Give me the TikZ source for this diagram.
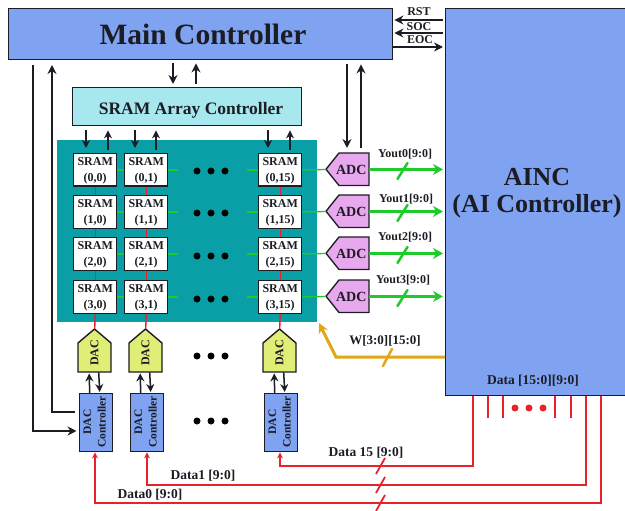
\documentclass[tikz,border=0pt]{standalone}
\usepackage{fontspec}
\setmainfont{Liberation Serif}
\usetikzlibrary{arrows.meta,calc}
\definecolor{mainblue}{HTML}{7FA3F0}
\definecolor{ctrlcyan}{HTML}{A6E8EE}
\definecolor{teal1}{HTML}{0A9EA6}
\definecolor{adcpink}{HTML}{E8A8EE}
\definecolor{dacyellow}{HTML}{E0EE78}
\definecolor{gr}{HTML}{1FCB2B}
\definecolor{gold}{HTML}{E0A818}
\definecolor{rd}{HTML}{E8222A}
\definecolor{ink}{HTML}{1C1C24}
\newcommand{\fs}[1]{\fontsize{#1}{#1}\selectfont\bfseries}
\tikzset{
 box/.style={draw=ink,line width=1.4pt,inner sep=0pt,anchor=north west,align=center,text=ink},
 sram/.style={box,fill=white,minimum width=43pt,minimum height=32.5pt,font=\fs{12},text depth=0pt},
 lab/.style={inner sep=0pt,text=ink,font=\fs{12}},
 dlab/.style={inner sep=0pt,text=ink,font=\fs{13.5}},
 arr/.style={draw=ink,line width=1.5pt,-{Stealth[length=9pt,width=9pt]}},
 thin arr/.style={draw=ink,line width=1.5pt,-{Stealth[length=8pt,width=8pt]}},
 garr/.style={draw=gr,line width=3pt,-{Stealth[length=10pt,width=11pt]},shorten >=2pt},
 glink/.style={draw=gr,line width=1.4pt},
 rlink/.style={draw=rd,line width=1.4pt},
 rarr/.style={draw=rd,line width=1.4pt,-{Stealth[length=6pt,width=6pt]}},
 gslash/.style={draw=gr,line width=2.5pt,line cap=round},
 rslash/.style={draw=rd,line width=1.8pt},
 rdot/.style={circle,fill=rd,inner sep=0pt,minimum size=7pt},
 kdot/.style={circle,fill=black,inner sep=0pt,minimum size=7pt},
}
\begin{document}
\begin{tikzpicture}[x=1pt,y=-1pt]
\useasboundingbox (0,0) rectangle (625,511);
\clip (0,0) rectangle (625,511);
% main blocks
\node[box,fill=mainblue,minimum width=384pt,minimum height=51pt] (mc) at (8,8) {};
\node[inner sep=0pt,font=\fs{29.5},text=ink] (mct) at (203,34) {Main Controller};
\node[box,fill=mainblue,minimum width=200pt,minimum height=387pt] (ainc) at (445,8) {};
\node[inner sep=0pt,font=\fs{26},text=ink,align=center] (ainct) at (537,193) {AINC\\[1pt](AI Controller)};
\node[box,fill=ctrlcyan,minimum width=229pt,minimum height=38pt] (sc) at (72,87) {};
\node[inner sep=0pt,font=\fs{17.5},text=ink] (sct) at (191,110) {SRAM Array Controller};
\node[fill=teal1,inner sep=0pt,minimum width=260pt,minimum height=182pt,anchor=north west] (array) at (57,140) {};
% SRAM cells
\foreach \r/\y/\d in {0/153/171,1/195/213,2/237/256,3/280/299}{
  \foreach \c/\x in {0/73,1/124,15/258}{
    \node[sram] (s\r-\c) at (\x,\y) {SRAM\\[4pt](\r,\c)};
  }
  \foreach \k/\dx in {a/197,b/211,c/225}{\node[kdot] (rd\r\k) at (\dx,\d) {};}
  % ADC
  \draw[draw=ink,line width=1.4pt,fill=adcpink] (339,\y) -- (369,\y) -- (369,\y+32.5) -- (339,\y+32.5) -- (326,\y+16.25) -- cycle;
  \node[inner sep=0pt,minimum width=43pt,minimum height=32.5pt,anchor=north west,font=\fs{14},text=ink] (adc\r) at (326,\y) {\hspace{7pt}ADC};
  \draw[glink] (s\r-0.east) -- (s\r-1.west);
  \draw[glink] (s\r-1.east) -- ++(10,0);
  \draw[glink] (s\r-15.west) -- ++(-11,0);
  \draw[glink] (s\r-15.east) -- (adc\r.west);
  \draw[garr] (adc\r.east) -- (adc\r.east -| ainc.west);
  \draw[gslash] (397.5,\y+26) -- (407.5,\y+10);
}
% red vertical links within array
\foreach \c in {0,1,15}{
  \draw[rlink] (s0-\c.south) -- (s1-\c.north);
  \draw[rlink] (s1-\c.south) -- (s2-\c.north);
  \draw[rlink] (s2-\c.south) -- (s3-\c.north);
}
% Yout labels
\node[lab] (y0) at (405,154) {Yout0[9:0]};
\node[lab] (y1) at (406,199) {Yout1[9:0]};
\node[lab] (y2) at (405,237) {Yout2[9:0]};
\node[lab] (y3) at (403,280) {Yout3[9:0]};
% DAC and controllers
\foreach \c/\x in {0/78,1/129,15/263}{
  \draw[draw=ink,line width=1.4pt,fill=dacyellow] (\x+16.5,329) -- (\x+33,343) -- (\x+33,372) -- (\x,372) -- (\x,343) -- cycle;
  \node[inner sep=0pt,minimum width=33pt,minimum height=43pt,anchor=north west] (d\c) at (\x,329) {};
  \node[rotate=90,inner sep=0pt,font=\fs{12},text=ink] (dt\c) at (\x+16.5,353) {DAC};
  \node[box,fill=mainblue,minimum width=33pt,minimum height=58pt] (dc\c) at (\x+0.5,393) {};
  \node[rotate=90,inner sep=0pt,font=\fs{11.5},text=ink,align=center] (dct\c) at (\x+16.5,422) {DAC\\[3pt]Controller};
  \draw[rlink] (s3-\c.south) -- (d\c.north);
  \draw[thin arr] ($(dc\c.north)+(-6,0)$) -- ($(d\c.south)+(-5.5,1)$);
  \draw[thin arr] ($(d\c.south)+(4,0)$) -- ($(dc\c.north)+(4,-1)$);
}
\foreach \k/\dx in {a/197,b/211,c/225}{
  \node[kdot] (ud\k) at (\dx,356) {};
  \node[kdot] (ld\k) at (\dx,421) {};
}
% control arrows
\draw[arr,shorten <=3pt,shorten >=3pt] (173,0 |- mc.south) -- (173,0 |- sc.north);
\draw[arr,shorten <=3pt,shorten >=3pt] (196,0 |- sc.north) -- (196,0 |- mc.south);
\foreach \c/\xa/\xb in {0/86/108,1/135/156,15/268/290}{
  \draw[thin arr,shorten <=4pt,shorten >=5pt] (\xa,0 |- sc.south) -- (\xa,0 |- s0-\c.north);
  \draw[thin arr,shorten <=3pt,shorten >=4pt] (\xb,0 |- s0-\c.north) -- (\xb,0 |- sc.south);
}
\draw[arr,shorten <=4pt,shorten >=5pt] (347,0 |- mc.south) -- (347,0 |- adc0.north);
\draw[arr,shorten <=5pt,shorten >=4pt] (361,0 |- adc0.north) -- (361,0 |- mc.south);
% RST SOC EOC
\draw[arr,shorten <=2pt,shorten >=1pt] (ainc.west |- 0,20) -- (mc.east |- 0,20);
\draw[arr,shorten <=2pt,shorten >=1pt] (ainc.west |- 0,33) -- (mc.east |- 0,33);
\draw[arr,shorten <=0pt,shorten >=2pt] (mc.east |- 0,47) -- (ainc.west |- 0,47);
\node[lab] (rst) at (419,12) {RST};
\node[lab] (soc) at (419,27) {SOC};
\node[lab] (eoc) at (420,40) {EOC};
% left lines
\coordinate (l1) at (33,65);
\coordinate (l2) at (52,65);
\draw[arr,shorten >=2pt] (l1) |- (dc0.west |- 0,431);
\draw[arr,shorten <=4pt] (dc0.west |- 0,412) -| (l2);
% gold bus
\coordinate (wb) at (336,357);
\coordinate (wt) at (319,323);
\draw[draw=gold,line width=3pt,-{Stealth[length=10pt,width=10pt]}] (ainc.west |- wb) -- (wb) -- (wt);
\draw[draw=gold,line width=2.5pt,line cap=round] (383,366) -- (392,349);
\node[dlab,font=\fs{13}] (wl) at (385,341) {W[3:0][15:0]};
% data buses
\coordinate (b0) at (95,503);
\coordinate (b1) at (147,485);
\coordinate (b2) at (280,466);
\draw[rarr] (601,0 |- ainc.south) |- (b0) -- (dc0.south -| b0);
\draw[rarr] (586,0 |- ainc.south) |- (b1) -- (dc1.south -| b1);
\draw[rarr] (473,0 |- ainc.south) |- (b2) -- (dc15.south -| b2);
\foreach \x in {488,503,555,571}{
  \coordinate (st\x) at (\x,418);
  \draw[rlink] (\x,0 |- ainc.south) -- (st\x);
}
\foreach \k/\dx in {a/515,b/529,c/543}{\node[rdot] (dd\k) at (\dx,408) {};}
\foreach \y in {466,485,503}{\draw[rslash] (376,\y+8) -- (385,\y-8);}
\node[dlab] (dl) at (533,381) {Data [15:0][9:0]};
\node[dlab] (d15) at (366,453) {Data 15 [9:0]};
\node[dlab] (d1l) at (203,476) {Data1 [9:0]};
\node[dlab] (d0l) at (150,495) {Data0 [9:0]};
\end{tikzpicture}
\end{document}
